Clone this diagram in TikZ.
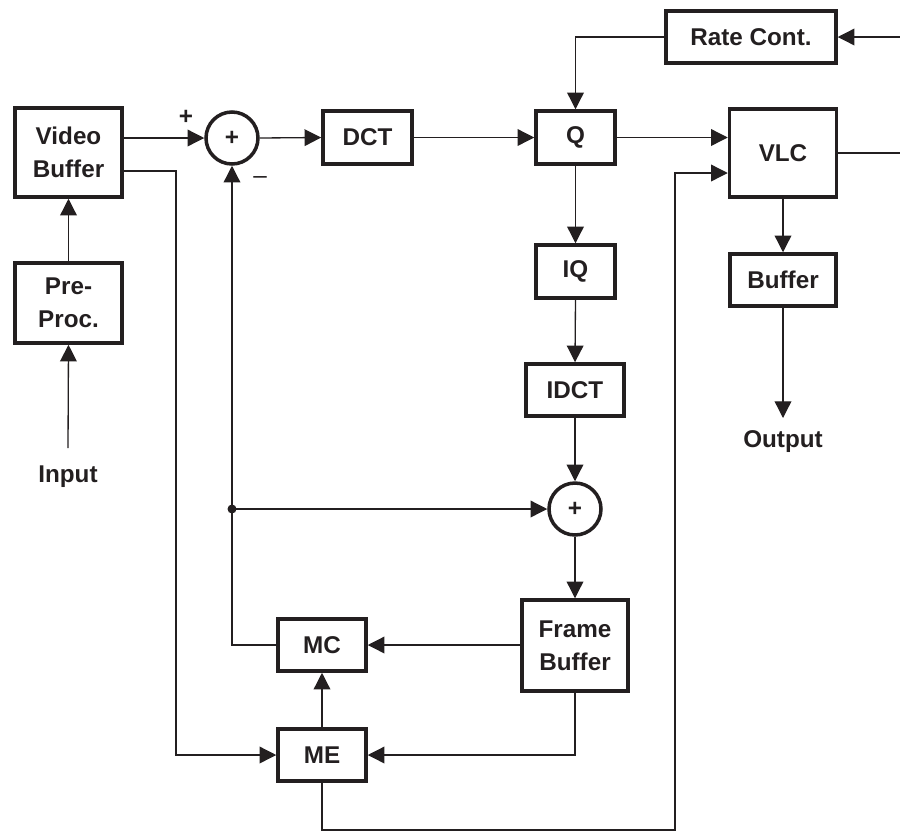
\documentclass[tikz,border=0pt]{standalone}
\usepackage{fontspec}
\setmainfont{Liberation Sans}
\usetikzlibrary{arrows.meta, positioning, calc}
\definecolor{LineColor}{HTML}{231F20}

\begin{document}
\begin{tikzpicture}[
        x=0.02cm, y=-0.02cm,
        box/.style={rectangle, draw=LineColor, line width=2pt, inner sep=0pt, align=center, font=\bfseries\fontsize{13.8}{18.7}\selectfont, text=LineColor},
        sum/.style={circle, draw=LineColor, line width=2pt, inner sep=0pt, minimum size=1.04cm, font=\bfseries\fontsize{13.8}{16}\selectfont, text=LineColor},
        lbl/.style={font=\bfseries\fontsize{13.8}{16}\selectfont, text=LineColor},
        arr/.style={-{Triangle[length=9.5pt, width=9.5pt]}, line width=0.75pt, LineColor},
        wire/.style={line width=0.75pt, LineColor}
      ]
        \useasboundingbox (0,0) rectangle (900,833);

        % Nodes
        \node[box, minimum width=2.14cm, minimum height=1.78cm] (vbuf) at (68.5,152.5) {Video\\Buffer};
        \node[box, minimum width=2.14cm, minimum height=1.6cm] (pre) at (68.5,303) {Pre-\\Proc.};
        \node[lbl] (input) at (68,477) {Input};
        \node[sum] (sum1) at (232,138) {+};
        \node[box, minimum width=1.78cm, minimum height=1.06cm] (dct) at (367.5,137.5) {DCT};
        \node[box, minimum width=1.58cm, minimum height=1.06cm] (q) at (575.5,137.5) {Q};
        \node[box, minimum width=3.4cm, minimum height=1.04cm] (rate) at (751,37) {Rate Cont.};
        \node[box, minimum width=2.14cm, minimum height=1.76cm] (vlc) at (783,153) {VLC};
        \node[box, minimum width=2.12cm, minimum height=1.04cm] (obuf) at (783,280) {Buffer};
        \node[lbl] (output) at (783,442) {Output};
        \node[box, minimum width=1.58cm, minimum height=1.06cm] (iq) at (575.5,271.5) {IQ};
        \node[box, minimum width=1.96cm, minimum height=1.04cm] (idct) at (575,390) {IDCT};
        \node[sum] (sum2) at (575,509) {+};
        \node[box, minimum width=2.12cm, minimum height=1.82cm] (fbuf) at (575,645.5) {Frame\\Buffer};
        \node[box, minimum width=1.76cm, minimum height=1.04cm] (mc) at (322,645) {MC};
        \node[box, minimum width=1.76cm, minimum height=1.04cm] (me) at (322,755) {ME};
        \node[lbl] (plus) at (186,117) {+};
        \node[font=\fontsize{13.8}{16}\selectfont, text=LineColor] (minus) at (260,180) {\textendash};

        % Coordinates
        \coordinate (inEnd) at (68,448);
        \coordinate (outEnd) at (783,418);
        \coordinate (rateIn) at (900,37);
        \coordinate (vlcOut) at (900,153);
        \coordinate (vbTap) at (124,171);
        \coordinate (leftBus) at (176,171);
        \coordinate (tap) at (232,509);
        \coordinate (bottomBus) at (675,830);

        % Connections
        \draw[arr] (inEnd) -- (pre.south);
        \draw[arr] (pre.north) -- (vbuf.south);
        \draw[arr] (vbuf.east |- sum1) -- (sum1.west);
        \draw[arr] (sum1.east) -- (dct.west);
        \draw[arr] (dct.east) -- (q.west);
        \draw[arr] (q.east) -- (q.east -| vlc.west);
        \draw[arr] (rateIn) -- (rate.east);
        \draw[arr] (rate.west) -| (q.north);
        \draw[wire] (vlc.east |- vlcOut) -- (vlcOut);
        \draw[arr] (vlc.south) -- (obuf.north);
        \draw[arr] (obuf.south) -- (outEnd);
        \draw[arr] (q.south) -- (iq.north);
        \draw[arr] (iq.south) -- (idct.north);
        \draw[arr] (idct.south) -- (sum2.north);
        \draw[arr] (sum2.south) -- (fbuf.north);
        \draw[arr] (tap) -- (sum2.west);
        \draw[arr] (mc.west) -| (sum1.south);
        \fill[LineColor] (tap) circle (4.5);
        \draw[arr] (fbuf.west |- mc) -- (mc.east);
        \draw[arr] (fbuf.south) |- (me.east);
        \draw[arr] (me.north) -- (mc.south);
        \draw[arr] (vbTap) -- (leftBus) |- (me.west);
        \draw[arr] (me.south) |- (bottomBus) |- ([yshift=-0.4cm]vlc.west);
      \end{tikzpicture}
\end{document}
